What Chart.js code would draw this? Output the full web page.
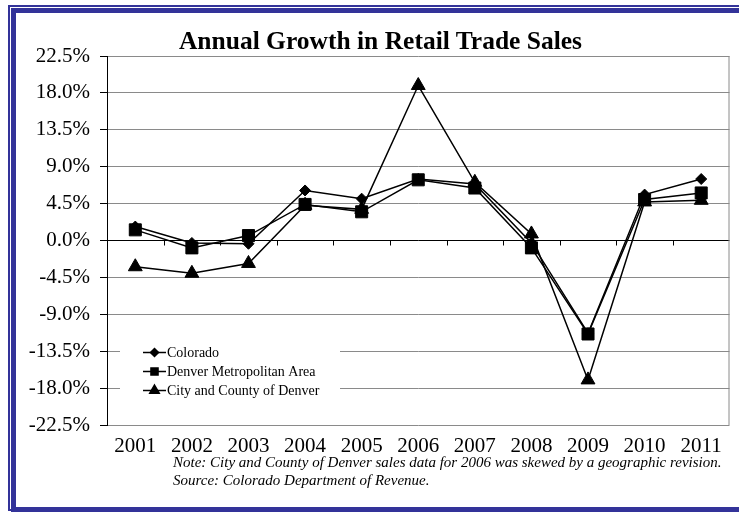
<!DOCTYPE html>
<html lang="en">
<head>
<meta charset="UTF-8">
<title>Annual Growth in Retail Trade Sales</title>
<script src="https://cdn.jsdelivr.net/npm/chart.js"></script>
<style>
  body { margin: 0; background: #fff; font-family: "Liberation Serif", "Times New Roman", serif; }
  #wrap { position: relative; width: 739px; height: 512px; overflow: hidden; }
  .rule { position: absolute; border-style: solid; border-color: #333399; border-right: none; }
  #frameOuter { left: 8px; top: 5px; width: 800px; height: 502px; border-width: 2px 0 2px 2px; }
  #frameInner { left: 11px; top: 8px; width: 800px; height: 494px; border-width: 5px 0 5px 5px; }
  #title { position: absolute; left: 0; top: 28px; width: 761px; text-align: center;
           font-weight: bold; font-size: 25.5px; line-height: 25px; white-space: nowrap; }
  #notes { position: absolute; left: 173px; top: 454px; font-style: italic;
           font-size: 15px; line-height: 17.5px; white-space: nowrap; }
  canvas { position: absolute; left: 0; top: 0; }
</style>
</head>
<body>
<div id="wrap">
  <div class="rule" id="frameOuter"></div>
  <div class="rule" id="frameInner"></div>
  <canvas id="growth" width="739" height="512"></canvas>
  <div id="title">Annual Growth in Retail Trade Sales</div>
  <div id="notes">
    Note: City and County of Denver sales data for 2006 was skewed by a geographic revision.<br>
    Source: Colorado Department of Revenue.
  </div>
</div>

<script>
  const years = ["2001", "2002", "2003", "2004", "2005", "2006", "2007", "2008", "2009", "2010", "2011"];
  const colorado    = [1.7, -0.3, -0.4, 6.1, 5.1, 7.5, 6.9, -0.3, -11.3, 5.6, 7.5];
  const denverMetro = [1.3, -0.9, 0.6, 4.4, 3.5, 7.4, 6.4, -0.9, -11.4, 5.0, 5.8];
  const cityDenver  = [-3.2, -4.0, -2.8, 4.3, 3.8, 18.9, 7.1, 0.8, -17.0, 4.7, 4.9];
  const yTicks = [-22.5, -18, -13.5, -9, -4.5, 0, 4.5, 9, 13.5, 18, 22.5];

  const serif = '"Liberation Serif", "Times New Roman", serif';
  Chart.defaults.font.family = serif;
  Chart.defaults.color = "#000";

  function series(label, data, style, radius, legendRadius, order) {
    return {
      label, data, order,
      borderColor: "#000",
      backgroundColor: "#000",
      borderWidth: 1.5,
      pointStyle: style,
      pointRadius: radius,
      pointHoverRadius: radius,
      pointBorderWidth: 1,
      tension: 0,
      legendRadius
    };
  }

  // gray right edge of the plot and the small boundary ticks on the zero line
  const plotFrame = {
    id: "plotFrame",
    beforeDatasetsDraw(chart) {
      const { ctx, chartArea, scales: { x, y } } = chart;
      const y0 = y.getPixelForValue(0);
      const step = x.getPixelForValue(1) - x.getPixelForValue(0);
      ctx.save();
      ctx.lineWidth = 1;
      ctx.strokeStyle = "#8a8a8a";
      ctx.beginPath();
      ctx.moveTo(chartArea.right - 0.5, chartArea.top);
      ctx.lineTo(chartArea.right - 0.5, chartArea.bottom);
      ctx.stroke();
      ctx.strokeStyle = "#000";
      ctx.beginPath();
      for (let i = 0; i < years.length - 1; i++) {
        const xb = Math.round(x.getPixelForValue(i) + step / 2) + 0.5;
        ctx.moveTo(xb, y0);
        ctx.lineTo(xb, y0 + 5);
      }
      ctx.stroke();
      ctx.restore();
    }
  };

  // legend sits inside the plot, lower left, on a white patch
  const innerLegend = {
    id: "innerLegend",
    afterDatasetsDraw(chart) {
      const ctx = chart.ctx;
      ctx.save();
      ctx.fillStyle = "#fff";
      ctx.fillRect(120, 339, 220, 62);
      chart.data.datasets.forEach((ds, i) => {
        const y = 352.5 + i * 19;
        ctx.strokeStyle = "#000";
        ctx.fillStyle = "#000";
        ctx.lineWidth = 1.5;
        ctx.beginPath();
        ctx.moveTo(143, y);
        ctx.lineTo(166, y);
        ctx.stroke();
        Chart.helpers.drawPoint(ctx, { pointStyle: ds.pointStyle, radius: ds.legendRadius, borderWidth: 1, rotation: 0 }, 154.5, y);
        ctx.font = "14px " + serif;
        ctx.textBaseline = "middle";
        ctx.fillText(ds.label, 167, y + 1);
      });
      ctx.restore();
    }
  };

  new Chart(document.getElementById("growth"), {
    type: "line",
    data: {
      labels: years,
      datasets: [
        series("Colorado", colorado, "rectRot", 5.5, 4, 2),
        series("Denver Metropolitan Area", denverMetro, "rect", 8.5, 5, 0),
        series("City and County of Denver", cityDenver, "triangle", 8, 5.5, 1)
      ]
    },
    options: {
      responsive: false,
      devicePixelRatio: 1,
      animation: false,
      layout: { padding: { left: 29, top: 56, right: 9, bottom: 0 } },
      plugins: { legend: { display: false }, tooltip: { enabled: false } },
      scales: {
        x: {
          offset: true,
          grid: { display: false },
          border: { display: false },
          ticks: { font: { size: 21 }, padding: 1, maxRotation: 0, autoSkip: false },
          afterFit: s => { s.height = 87; }
        },
        y: {
          min: -22.5,
          max: 22.5,
          afterBuildTicks: s => { s.ticks = yTicks.map(v => ({ value: v })); },
          grid: {
            color: c => (c.tick && c.tick.value === 0 ? "#000" : "#8a8a8a"),
            tickColor: "#000",
            tickLength: 7,
            lineWidth: 1
          },
          border: { color: "#000", width: 1 },
          ticks: { font: { size: 21 }, padding: 10, callback: v => v.toFixed(1) + "%" },
          afterFit: s => { s.width = 78; }
        }
      }
    },
    plugins: [plotFrame, innerLegend]
  });
</script>
</body>
</html>
